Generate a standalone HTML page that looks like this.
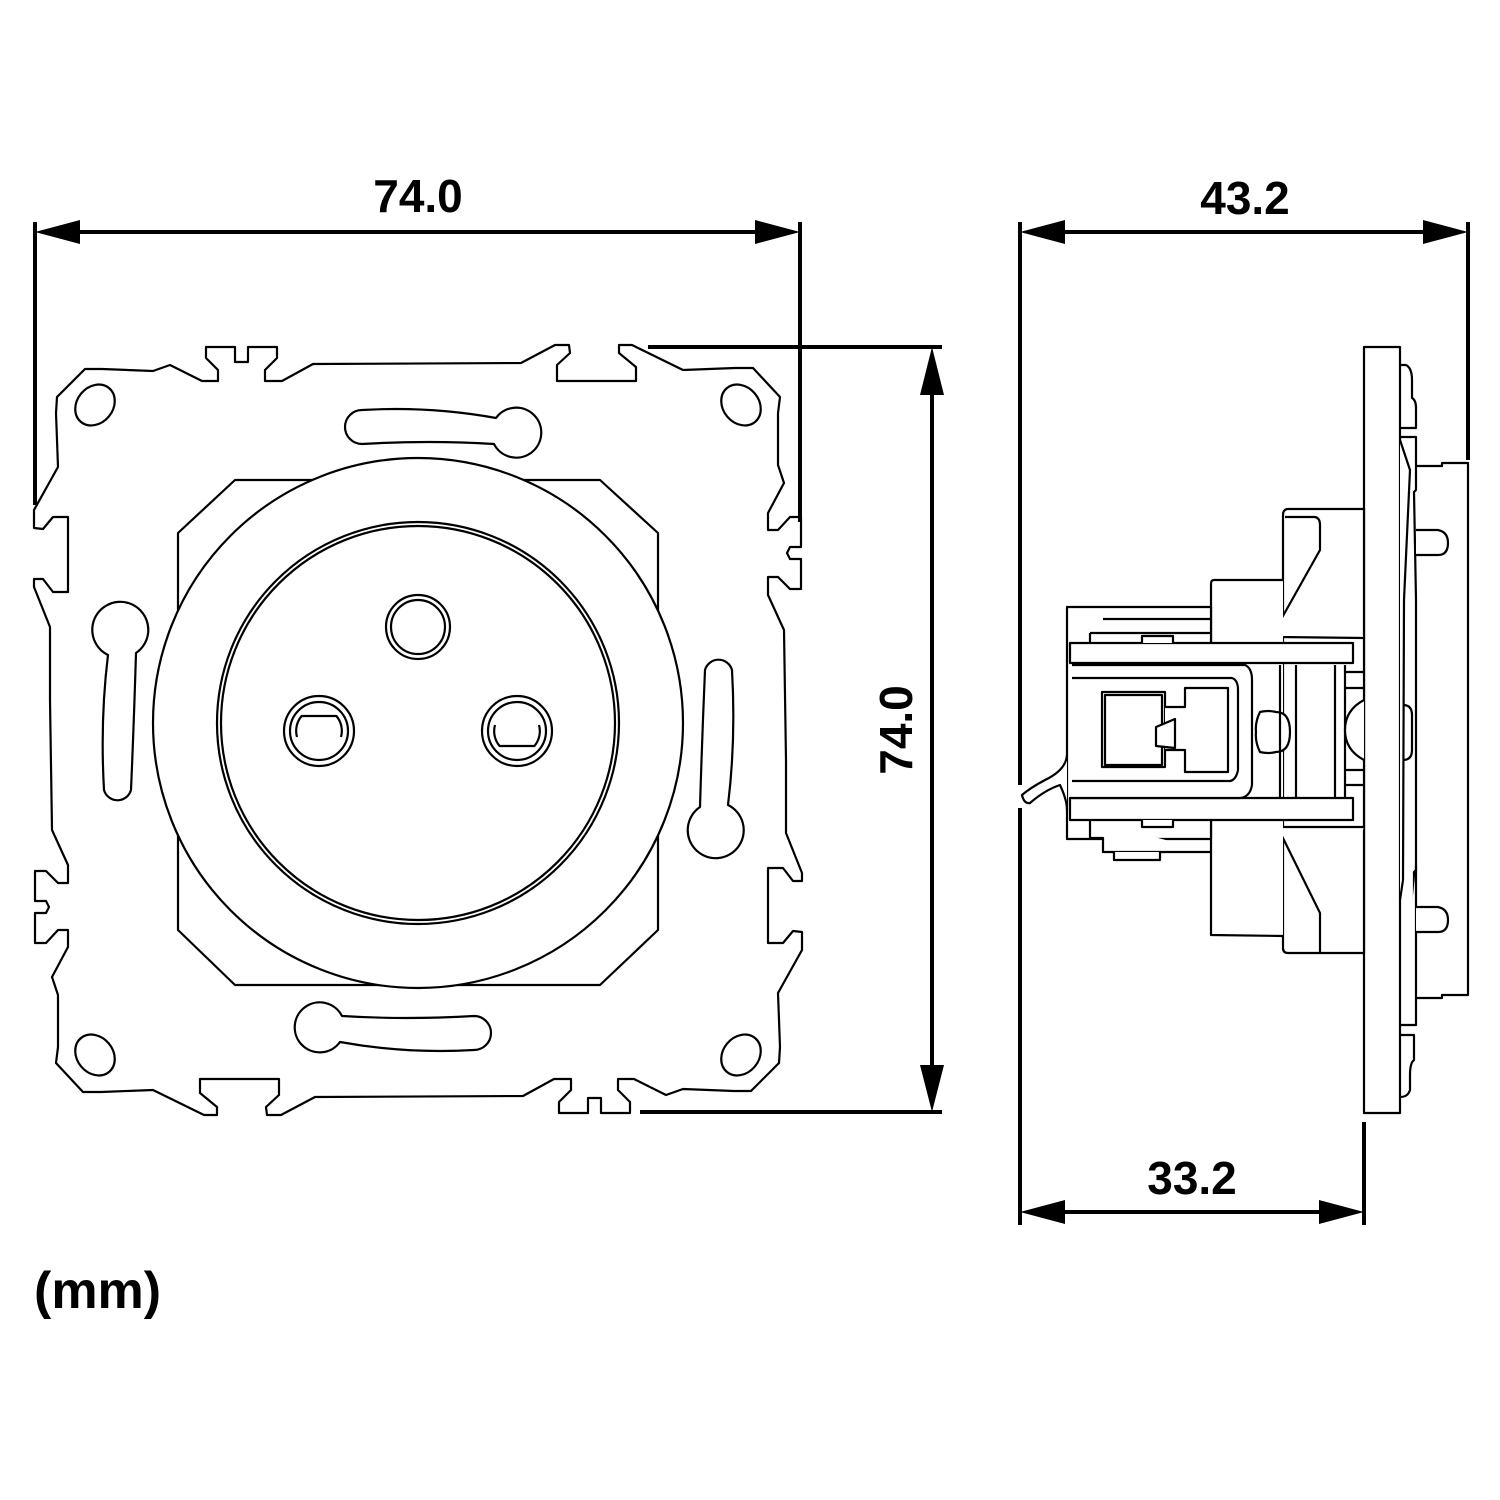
<!DOCTYPE html>
<html><head><meta charset="utf-8"><style>
html,body{margin:0;padding:0;background:#fff;}
svg{display:block;}
text{font-family:"Liberation Sans",Arial,sans-serif;font-weight:bold;font-size:46px;fill:#000;}
</style></head><body>
<svg id="s" width="1500" height="1500" viewBox="0 0 1500 1500" xmlns="http://www.w3.org/2000/svg">
<g fill="#fff" stroke="#000" stroke-width="2.2" stroke-linejoin="round">
<path id="plate" d=""/>
<g id="feat"></g>
</g>
<g id="side" fill="#fff" stroke="#000" stroke-width="2.2" stroke-linejoin="round">
 <path d="M1414,466 L1442,466 L1442,463 L1468,463 L1468,995 L1442,995 L1442,998 L1414,998"/>
 <path d="M1400,365 L1406,365 Q1412,368 1412,380 L1412,398 Q1416,400 1416,408 L1416,428 L1400,428"/>
 <path d="M1400,437 L1416,437 L1416,490 L1414,492 L1416,600 L1416,870 L1414,872 L1414,995"/>
 <path d="M1400,1035 L1414,1035 L1414,1060 Q1410,1063 1410,1075 L1410,1090 Q1408,1097 1400,1097"/>
 <path d="M1416,866 L1416,1025 L1400,1025"/>
 <path d="M1416,530 L1438,530 Q1448,532 1448,543 Q1448,555 1438,555 L1416,555"/>
 <path d="M1416,907 L1438,907 Q1448,909 1448,920 Q1448,932 1438,932 L1416,932"/>
 <path d="M1403,705 Q1412,705 1412,715 L1412,750 Q1412,760 1403,760"/>
 <rect x="1364" y="347" width="36" height="766"/>
 <path d="M1400,440 Q1405,455 1410,470 L1404,600 L1403,880 L1400,900"/>
 <path d="M1364,509 L1287,509 Q1283,510 1283,515 L1283,948 Q1283,953 1288,953 L1364,953 Z"/>
 <path d="M1285,517 L1315,517 Q1320,518 1320,525 L1320,550 L1279,623 L1279,637 L1364,638"/>
 <path d="M1364,827 L1279,827 L1279,830 L1320,913 L1320,952"/>
 <path d="M1283,580 L1214,580 Q1211,580 1211,584 L1211,935 L1283,936"/>
 <rect x="1067" y="607" width="144" height="232"/>
 <path d="M1103,619 L1211,619 M1090,633 L1211,633 M1090,633 L1090,643"/>
 <path d="M1090,820 L1090,838 L1103,838 L1103,852 L1211,852"/>
 <path d="M1114,852 L1114,860 L1160,860 L1160,852"/>
 <rect x="1070" y="643" width="283" height="20"/>
 <rect x="1070" y="798" width="283" height="22"/>
 <path d="M1142,643 L1142,636 L1173,636 L1173,643"/>
 <path d="M1142,820 L1142,827 L1173,827 L1173,820"/>
 <path d="M1072,665 L1245,665 Q1252,668 1252,680 L1252,785 Q1250,797 1240,798 L1072,798"/>
 <path d="M1072,678 L1232,678 Q1238,680 1238,690 L1238,770 Q1236,780 1230,781 L1072,781"/>
 <rect x="1102" y="692" width="63" height="75"/>
 <path d="M1105,695 L1162,695 L1162,765 L1105,765 Z"/>
 <path d="M1165,707 L1185,707 L1185,688 L1228,688 L1228,772 L1185,772 L1185,750 L1165,750"/>
 <path d="M1156,727 L1175,719 L1175,748 L1156,746 Z"/>
 <path d="M1260,712 Q1268,710 1276,712 Q1290,712 1290,732 Q1290,752 1276,752 Q1268,754 1260,752 Q1255,742 1256,732 Q1255,722 1260,712 Z"/>
 <path d="M1280,665 L1280,798 M1296,665 L1296,798 M1335,665 L1335,798 M1345,665 L1345,798"/>
 <path d="M1345,672 L1364,672 M1345,688 L1364,688 M1345,770 L1364,770 M1345,785 L1364,785"/>
 <path d="M1364,700 Q1345,710 1345,730 Q1345,750 1364,760"/>
 <path d="M1067,755 Q1066,770 1045,780 Q1030,788 1022,795 Q1024,804 1030,803 Q1045,790 1060,785 Q1067,800 1067,810"/>
</g>
<g stroke="#000" stroke-width="4" fill="none">
 <line x1="35" y1="222" x2="35" y2="505"/>
 <line x1="800" y1="222" x2="800" y2="522"/>
 <line x1="70" y1="232" x2="765" y2="232"/>
 <line x1="648" y1="347" x2="942" y2="347"/>
 <line x1="640" y1="1112" x2="942" y2="1112"/>
 <line x1="932" y1="385" x2="932" y2="1075"/>
 <line x1="1020" y1="222" x2="1020" y2="785"/>
 <line x1="1020" y1="808" x2="1020" y2="1225"/>
 <line x1="1468" y1="222" x2="1468" y2="460"/>
 <line x1="1055" y1="232" x2="1432" y2="232"/>
 <line x1="1364" y1="1122" x2="1364" y2="1225"/>
 <line x1="1055" y1="1212" x2="1328" y2="1212"/>
</g>
<g fill="#000">
 <polygon points="35,232 80,220 80,244"/>
 <polygon points="800,232 755,220 755,244"/>
 <polygon points="932,347 920,395 944,395"/>
 <polygon points="932,1112 920,1065 944,1065"/>
 <polygon points="1020,232 1065,220 1065,244"/>
 <polygon points="1468,232 1423,220 1423,244"/>
 <polygon points="1020,1212 1065,1200 1065,1224"/>
 <polygon points="1364,1212 1319,1200 1319,1224"/>
</g>
<text x="418" y="212" text-anchor="middle">74.0</text>
<text x="1245" y="214" text-anchor="middle">43.2</text>
<text x="1192" y="1194" text-anchor="middle">33.2</text>
<text transform="translate(912,730) rotate(-90)" text-anchor="middle">74.0</text>
<text x="34" y="1308" style="font-size:52px">(mm)</text>
</svg>
<script>
(function(){
var H=[[313,364],[282,381],[265,381],[265,370],[277,358],[277,347],[248,347],[248,362],[235,362],[235,347],[206,347],[206,358],[218,370],[218,381],[202,381],[170,365],[153,371],[102,369],[85,369],[57,397],[56,413],[58,467],[34,510],[34,528],[43,529],[53,517],[68,517],[68,592],[53,592],[43,579],[34,579],[34,587],[50,627],[50,700],[52,830],[68,865],[68,883],[58,883],[46,871],[35,871],[35,901],[46,901],[49,907],[46,913],[35,913],[35,943],[46,943],[58,930],[68,930],[68,947],[52,977],[58,995],[58,1047],[56,1063],[83,1092],[101,1092],[153,1090],[204,1115],[217,1115],[217,1107],[200,1093],[200,1079],[279,1079],[279,1095],[266,1107],[267,1115],[281,1115],[315,1097]];
var R=H.map(function(p){return [836-p[0],1460-p[1]];});
var all=H.concat(R);
document.getElementById('plate').setAttribute('d','M'+all.map(function(p){return p.join(',');}).join(' L')+' Z');
var g=document.getElementById('feat');
var svg='';
var rot=' transform="rotate(180 418 730)"';
var oct='<path d="M235,480 L600,480 L658,533 L658,930 L600,985 L235,985 L178,930 L178,533 Z"/>';
var slotT='<path d="M496,418 A25,25 0 1 1 494,444 Q430,440 362,444 A17,17 0 0 1 362,410 Q430,406 496,418 Z"/>';
var slotL='<path d="M136,653 A28,28 0 1 0 108,655 Q100,720 104,790 A14,14 0 0 0 131,790 Q134,720 136,653 Z"/>';
svg+=oct+slotT+'<g'+rot+'>'+slotT+'</g>'+slotL+'<g'+rot+'>'+slotL+'</g>';
svg+='<ellipse cx="95" cy="405" rx="18" ry="22" transform="rotate(40 95 405)"/>';
svg+='<ellipse cx="741" cy="405" rx="18" ry="22" transform="rotate(-40 741 405)"/>';
svg+='<ellipse cx="95" cy="1055" rx="18" ry="22" transform="rotate(-40 95 1055)"/>';
svg+='<ellipse cx="741" cy="1055" rx="18" ry="22" transform="rotate(40 741 1055)"/>';
svg+='<circle cx="418" cy="723" r="265"/>';
svg+='<circle cx="418" cy="723" r="201"/><circle cx="418" cy="723" r="197"/>';
svg+='<circle cx="418" cy="627" r="32"/><circle cx="418" cy="627" r="27"/>';
svg+='<circle cx="319" cy="731" r="35"/><circle cx="319" cy="731" r="29"/>';
svg+='<path d="M297,737 A23,23 0 0 1 301.6,716 L336.4,716 A23,23 0 0 1 341,737" fill="none"/>';
svg+='<circle cx="517" cy="731" r="35"/><circle cx="517" cy="731" r="29"/>';
svg+='<path d="M495,725 A23,23 0 0 0 499.6,746 L534.4,746 A23,23 0 0 0 539,725" fill="none"/>';
g.innerHTML=svg;
})();
</script>
</body></html>
